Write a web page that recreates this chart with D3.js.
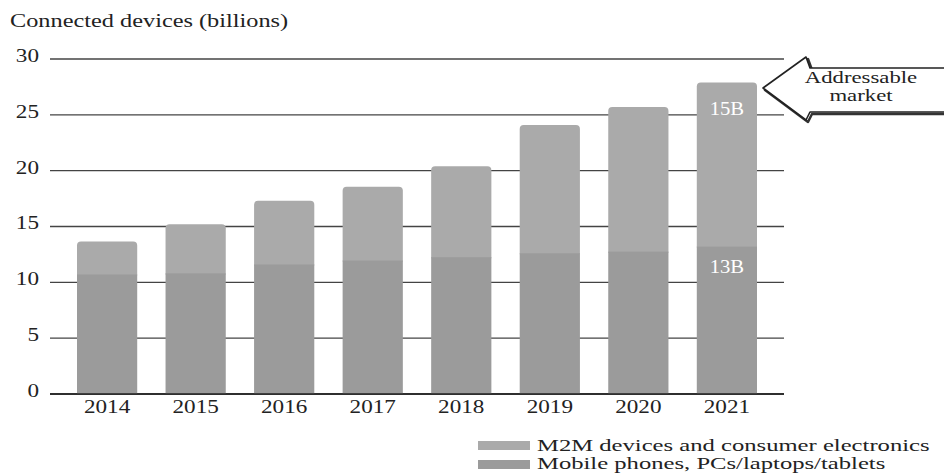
<!DOCTYPE html>
<html>
<head>
<meta charset="utf-8">
<script src="https://cdn.jsdelivr.net/npm/d3@7"></script>
<style>
  html, body { margin: 0; padding: 0; background: #fff; }
  svg text { font-family: "Liberation Serif", "DejaVu Serif", serif; fill: #222; }
</style>
</head>
<body>
<svg id="chart" width="944" height="473"></svg>
<script>
const years = ["2014", "2015", "2016", "2017", "2018", "2019", "2020", "2021"];
const mobile = [10.7, 10.8, 11.6, 11.95, 12.25, 12.6, 12.75, 13.2];
const m2m = [2.95, 4.4, 5.7, 6.6, 8.15, 11.5, 12.95, 14.7];
const yTicks = [0, 5, 10, 15, 20, 25, 30];
const seriesNames = ["M2M devices and consumer electronics", "Mobile phones, PCs/laptops/tablets"];
const barLabels = ["13B", "15B"];
const calloutLines = ["Addressable", "market"];
const titleText = "Connected devices (billions)";

(function () {
const svg = d3.select("#chart");
const colM2M = "#aaaaaa", colMob = "#9b9b9b";

const x = d3.scaleBand().domain(years).range([77, 757]).paddingInner(0.32).paddingOuter(0);
const y = d3.scaleLinear().domain([0, 30]).range([394, 59]);
const SX = 1.22;

svg.append("text").attr("x", 10).attr("y", 27)
  .attr("font-size", 19).attr("transform", `translate(10,0) scale(1.28,1) translate(-10,0)`)
  .text(titleText);

svg.append("g").selectAll("line").data(yTicks).join("line")
  .attr("x1", 50).attr("x2", 784)
  .attr("y1", d => y(d)).attr("y2", d => y(d))
  .attr("stroke", d => d === 0 ? "#222" : "#444").attr("stroke-width", d => d === 0 ? 1.6 : 1.3);

svg.append("g").selectAll("text").data(yTicks).join("text")
  .attr("x", 39).attr("y", d => y(d) + 3)
  .attr("text-anchor", "end").attr("font-size", 19)
  .attr("transform", `translate(39,0) scale(${SX},1) translate(-39,0)`)
  .text(d => d);

const stacked = years.map((yr, i) => ({ yr, mob: mobile[i], m2m: m2m[i], tot: mobile[i] + m2m[i] }));
const bw = x.bandwidth();
const r = 4;
function roundedTop(x0, y0, w, h, rr) {
  return `M${x0},${y0 + h} L${x0},${y0 + rr} Q${x0},${y0} ${x0 + rr},${y0} L${x0 + w - rr},${y0} Q${x0 + w},${y0} ${x0 + w},${y0 + rr} L${x0 + w},${y0 + h} Z`;
}
svg.append("g").selectAll("path").data(stacked).join("path")
  .attr("d", d => roundedTop(x(d.yr), y(d.tot), bw, y(d.mob) - y(d.tot) + 1, r))
  .attr("fill", colM2M);
svg.append("g").selectAll("rect").data(stacked).join("rect")
  .attr("x", d => x(d.yr)).attr("y", d => y(d.mob))
  .attr("width", bw).attr("height", d => y(0) - y(d.mob))
  .attr("fill", colMob);

svg.append("line").attr("x1", 50).attr("x2", 784).attr("y1", y(0)).attr("y2", y(0))
  .attr("stroke", "#222").attr("stroke-width", 1.6);

svg.append("g").selectAll("text").data(years).join("text")
  .attr("x", d => x(d) + bw / 2).attr("y", 413)
  .attr("text-anchor", "middle").attr("font-size", 19)
  .attr("transform", d => { const cx = x(d) + bw / 2; return `translate(${cx},0) scale(${SX},1) translate(${-cx},0)`; })
  .text(d => d);

const last = stacked[stacked.length - 1];
const cxL = x(last.yr) + bw / 2;
svg.append("text").attr("x", cxL).attr("y", y(last.tot) + 33)
  .attr("text-anchor", "middle").attr("font-size", 18).style("fill", "#fff")
  .attr("transform", `translate(${cxL},0) scale(1.15,1) translate(${-cxL},0)`)
  .text(barLabels[1]);
svg.append("text").attr("x", cxL).attr("y", y(last.mob) + 26)
  .attr("text-anchor", "middle").attr("font-size", 18).style("fill", "#fff")
  .attr("transform", `translate(${cxL},0) scale(1.15,1) translate(${-cxL},0)`)
  .text(barLabels[0]);

const tipX = 763, tipY = 88, headX = 806, hTop = 57, hBot = 120, bTop = 68, bBot = 112, rx = 945;
const arrowPath = `M${tipX},${tipY} L${headX},${hTop} L${headX + 4},${bTop} L${rx},${bTop} L${rx},${bBot} L${headX + 4},${bBot} L${headX},${hBot} Z`;
svg.append("path").attr("d", arrowPath).attr("transform", "translate(2,2)")
  .attr("fill", "none").attr("stroke", "#333").attr("stroke-width", 2.5).attr("stroke-linejoin", "round");
svg.append("path").attr("d", arrowPath)
  .attr("fill", "#fff").attr("stroke", "#222").attr("stroke-width", 1.6).attr("stroke-linejoin", "round");
svg.append("g").selectAll("text").data(calloutLines).join("text")
  .attr("x", 861).attr("y", (d, i) => 83 + i * 18)
  .attr("text-anchor", "middle").attr("font-size", 17.5)
  .attr("transform", `translate(861,0) scale(1.3,1) translate(-861,0)`)
  .text(d => d);

const legColors = [colM2M, colMob];
const lg = svg.append("g");
seriesNames.forEach((name, i) => {
  lg.append("rect").attr("x", 478).attr("y", 441 + i * 19).attr("width", 52).attr("height", 9).attr("fill", legColors[i]);
  lg.append("text").attr("x", 537).attr("y", 451 + i * 18).attr("font-size", 17)
    .attr("transform", `translate(537,0) scale(1.45,1) translate(-537,0)`)
    .text(name);
});
})();
</script>
</body>
</html>
